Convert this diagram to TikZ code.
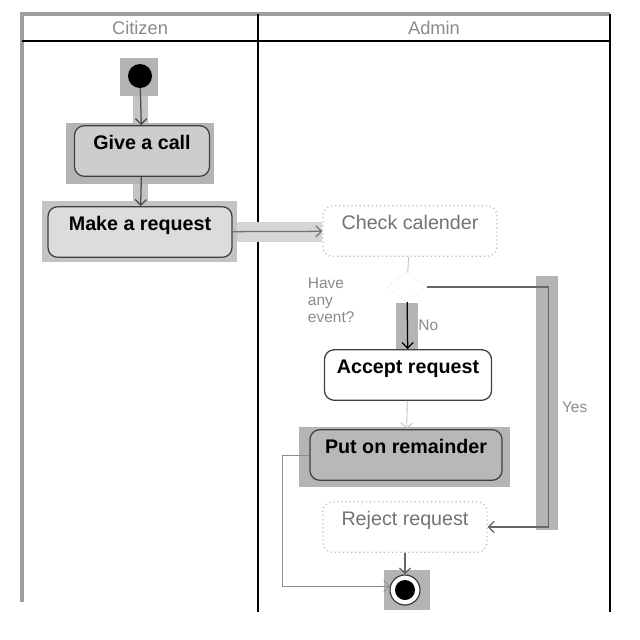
\documentclass[tikz,border=0pt]{standalone}
\usepackage{fontspec}
\setmainfont{Liberation Sans}
\usepackage{tikz}
\usetikzlibrary{positioning, shapes.geometric, arrows.meta, calc}

\definecolor{shadebg}{HTML}{B4B4B4}
\definecolor{bandbg}{HTML}{C4C4C4}
\definecolor{boxfill}{HTML}{CDCDCD}
\definecolor{lighttext}{HTML}{8A8A8A}

\tikzset{
  lanehead/.style={font=\fontsize{13}{15}\selectfont, text=lighttext},
  actbox/.style={rectangle, rounded corners=7pt, draw=black!75, line width=0.9pt,
    align=center, inner ysep=0pt, text height=17pt, text depth=19pt,
    font=\bfseries\fontsize{14}{16}\selectfont},
  palebox/.style={actbox, draw=black!25, dotted, font=\fontsize{14}{16}\selectfont, text=black!55},
  guard/.style={font=\fontsize{11}{12}\selectfont, text=lighttext},
  flow/.style={->, draw=black!70, line width=0.9pt},
  paleflow/.style={->, draw=black!25, line width=0.6pt}
}

\begin{document}
\begin{tikzpicture}[x=0.025cm, y=-0.025cm, >={Straight Barb[length=4pt]}]
  \useasboundingbox (0,0) rectangle (640,640);
  % Swimlane frame
  \draw[gray!75, line width=3pt] (22,602) -- (22,14) -- (610,14);
  \draw[line width=2pt] (610,14) -- (610,612);
  \draw[line width=2pt] (258,14) -- (258,612);
  \draw[line width=1.5pt] (22,41) -- (610,41);
  \node[lanehead] (citizen) at (140,28) {Citizen};
  \node[lanehead] (admin) at (434,28) {Admin};
  % Shaded backgrounds and bands
  \fill[shadebg] (120,58) rectangle (158,96);
  \fill[bandbg] (133,96) rectangle (148,123);
  \fill[shadebg] (66,123) rectangle (214,184);
  \fill[bandbg] (133,184) rectangle (148,201);
  \fill[shadebg!80] (42,201) rectangle (237,262);
  \fill[bandbg!70] (237,222) rectangle (322,242);
  \fill[shadebg] (396,303) rectangle (418,350);
  \fill[shadebg] (536,276) rectangle (558,530);
  \fill[shadebg] (299,427) rectangle (510,487);
  \fill[shadebg] (384,570) rectangle (430,610);
  % Citizen lane
  \node[circle, fill=black, minimum size=0.6cm, inner sep=0pt] (start) at (140,76) {};
  \node[actbox, fill=boxfill, minimum width=3.375cm] (call) at (142,151) {Give a call};
  \node[actbox, fill=boxfill!70, minimum width=4.6cm] (request) at (140,232) {Make a request};
  % Admin lane
  \node[palebox, fill=white, minimum width=4.35cm] (check) at (410,231) {Check calender};
  \node[diamond, draw=black!25, dotted, minimum width=1cm, minimum height=0.75cm,
        inner sep=0pt] (decision) at (407,287) {};
  \node[guard, align=left, anchor=west] (question) at (303,300) {Have\\any\\event?};
  \node[actbox, fill=white, minimum width=4.175cm] (accept) at (408,375) {Accept request};
  \node[actbox, fill=boxfill!90!black, minimum width=4.8cm] (remind) at (406,455) {Put on remainder};
  \node[palebox, fill=white, minimum width=4.1cm] (reject) at (405,527) {Reject request};
  \node[circle, draw=black!80, line width=0.8pt, minimum size=0.75cm, inner sep=0pt, fill=white,
        path picture={\fill[black] (path picture bounding box.center) circle (0.25cm);}]
        (final) at (405,590) {};
  % Connectors
  \draw[flow] (start) -- (call);
  \draw[flow] (call) -- (request);
  \draw[flow, draw=black!55] (request) -- (check);
  \draw[paleflow, -] (check) -- (decision);
  \draw[flow, draw=black] (decision) -- node[guard, right=4pt] (no) {No} (accept);
  \draw[flow, draw=black!60] (decision.east) -- ++(121,0) |- node[guard, pos=0.25, right=6pt] (yes) {Yes} (reject.east);
  \draw[paleflow] (accept) -- (remind);
  \draw[paleflow, draw=black!45] (remind.west) -- ++(-27,0) |- (final.165);
  \draw[flow, draw=black!60] (reject) -- (final);
\end{tikzpicture}
\end{document}
